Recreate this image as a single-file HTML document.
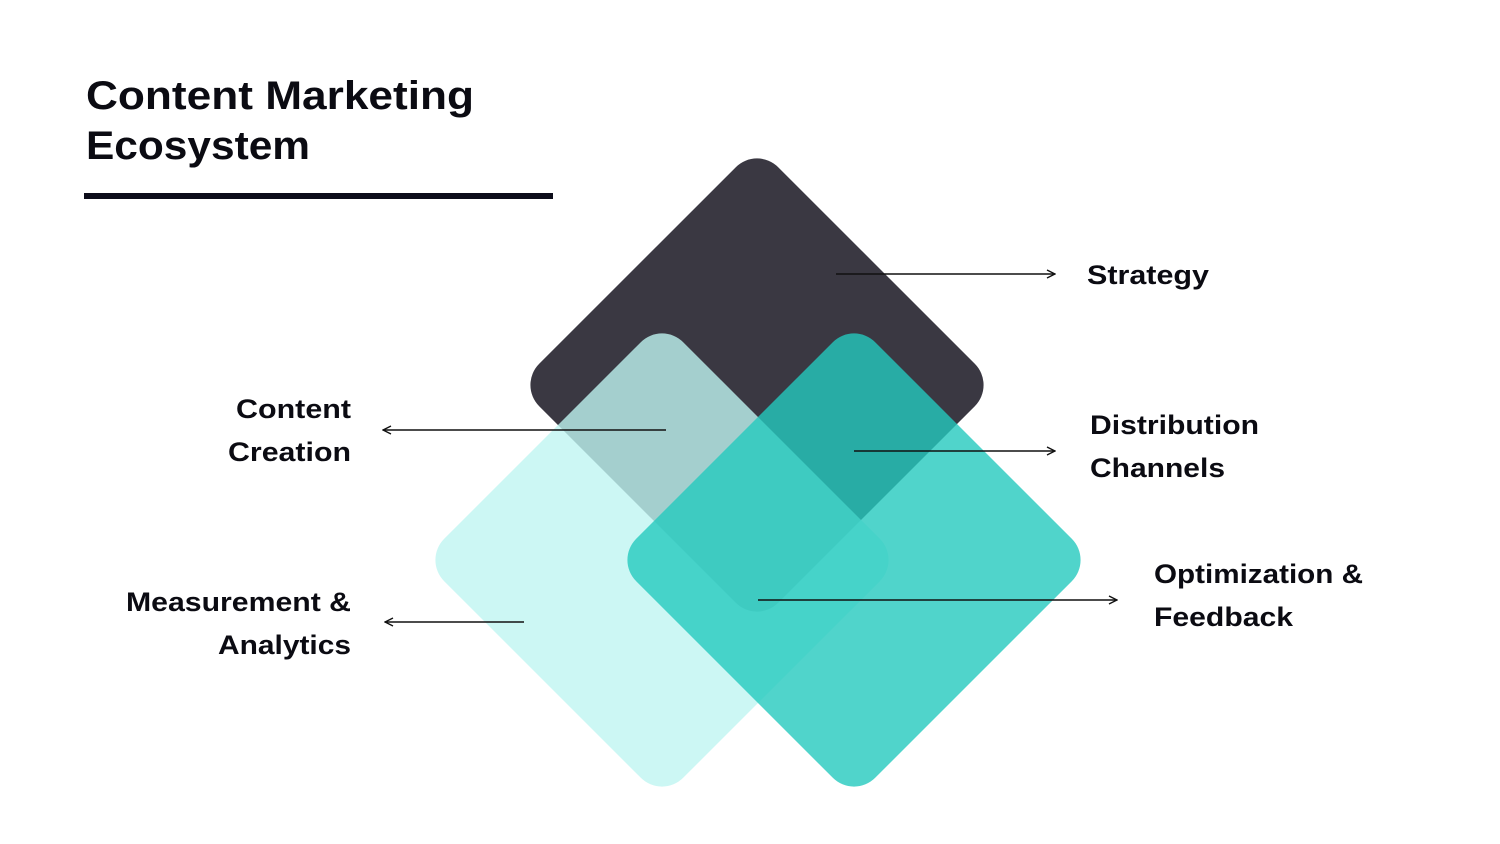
<!DOCTYPE html>
<html><head><meta charset="utf-8"><style>
html,body{margin:0;padding:0;background:#fff;}
svg{display:block;}
text{font-family:"Liberation Sans",Arial,sans-serif;font-weight:bold;fill:#0b0b12;}
</style></head><body>
<svg width="1500" height="844" viewBox="0 0 1500 844" xmlns="http://www.w3.org/2000/svg">
<defs>
<marker id="ah" viewBox="0 0 10 10" refX="9" refY="5" markerWidth="10" markerHeight="10" markerUnits="userSpaceOnUse" orient="auto">
<path d="M1,1 L9,5 L1,9" fill="none" stroke="#111" stroke-width="1.4"/>
</marker>
</defs>
<text x="86" y="109" font-size="40" textLength="388" lengthAdjust="spacingAndGlyphs">Content Marketing</text>
<text x="86" y="159" font-size="40" textLength="224" lengthAdjust="spacingAndGlyphs">Ecosystem</text>
<rect x="84" y="193" width="469" height="6" fill="#0d0d1a"/>

<g transform="translate(757,385) rotate(45)"><rect x="-169" y="-169" width="338" height="338" rx="30" fill="#3a3842"/></g>
<g transform="translate(662,560) rotate(45)"><rect x="-169" y="-169" width="338" height="338" rx="30" fill="rgba(191,245,241,0.8)"/></g>
<g transform="translate(854,560) rotate(45)"><rect x="-169" y="-169" width="338" height="338" rx="30" fill="rgba(36,201,190,0.8)"/></g>

<g stroke="#111" stroke-width="1.6" fill="none">
<line x1="836" y1="274" x2="1055" y2="274" marker-end="url(#ah)"/>
<line x1="666" y1="430" x2="383" y2="430" marker-end="url(#ah)"/>
<line x1="854" y1="451" x2="1055" y2="451" marker-end="url(#ah)"/>
<line x1="758" y1="600" x2="1117" y2="600" marker-end="url(#ah)"/>
<line x1="524" y1="622" x2="385" y2="622" marker-end="url(#ah)"/>
</g>

<g font-size="27">
<text x="1087" y="284" textLength="122" lengthAdjust="spacingAndGlyphs">Strategy</text>
<text x="236" y="418" textLength="115" lengthAdjust="spacingAndGlyphs">Content</text>
<text x="228" y="461" textLength="123" lengthAdjust="spacingAndGlyphs">Creation</text>
<text x="1090" y="434" textLength="169" lengthAdjust="spacingAndGlyphs">Distribution</text>
<text x="1090" y="477" textLength="135" lengthAdjust="spacingAndGlyphs">Channels</text>
<text x="1154" y="583" textLength="209" lengthAdjust="spacingAndGlyphs">Optimization &amp;</text>
<text x="1154" y="626" textLength="139" lengthAdjust="spacingAndGlyphs">Feedback</text>
<text x="126" y="611" textLength="225" lengthAdjust="spacingAndGlyphs">Measurement &amp;</text>
<text x="218" y="654" textLength="133" lengthAdjust="spacingAndGlyphs">Analytics</text>
</g>
</svg>
</body></html>
